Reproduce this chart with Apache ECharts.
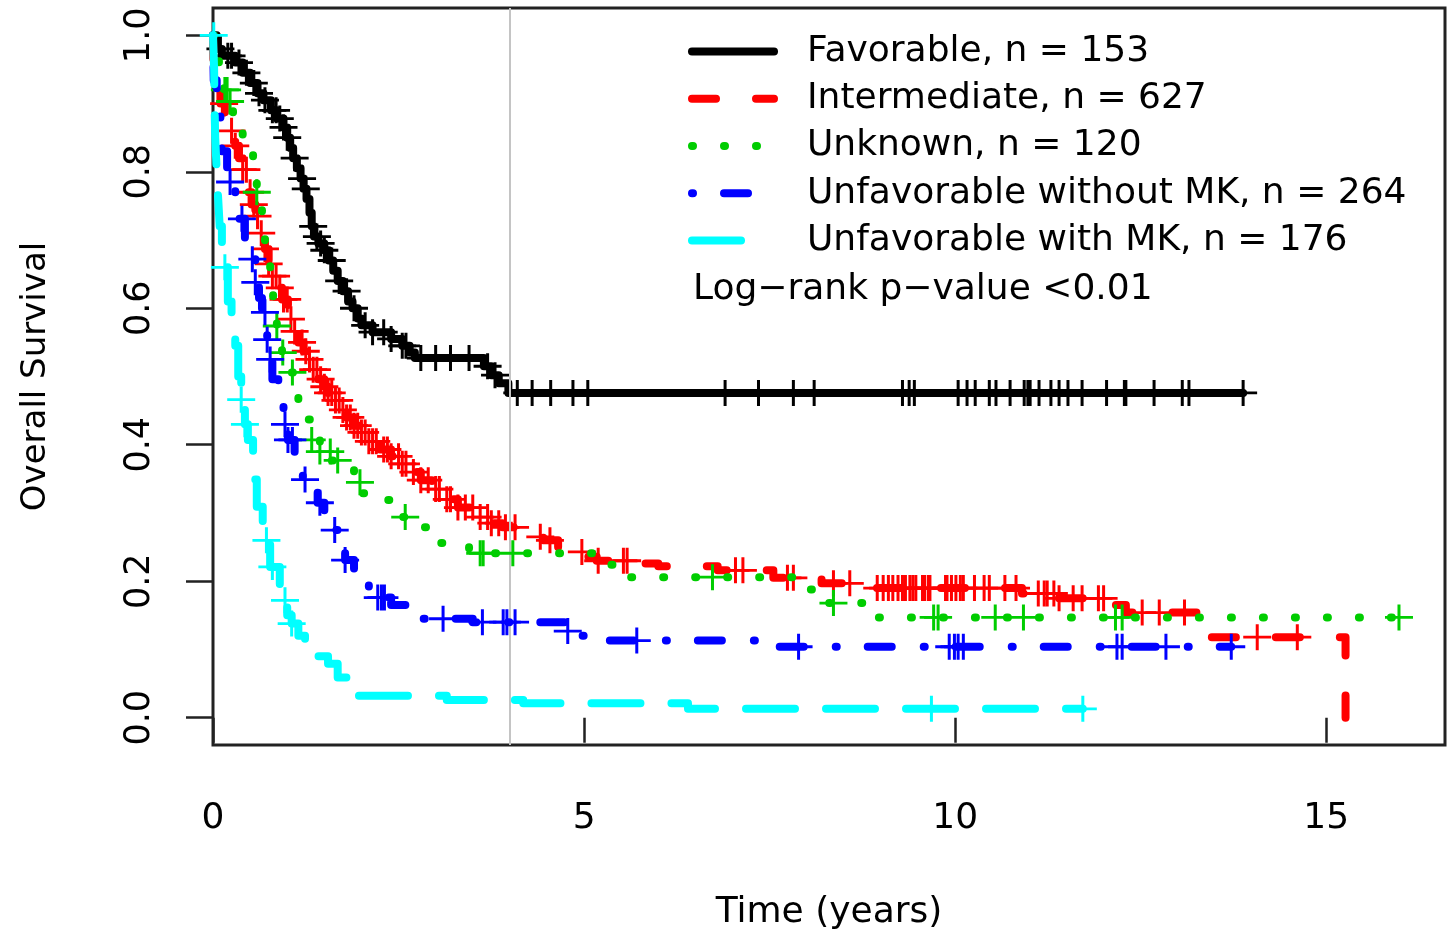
<!DOCTYPE html>
<html><head><meta charset="utf-8">
<script src="https://cdn.jsdelivr.net/npm/echarts@6/dist/echarts.min.js"></script>
<style>html,body{margin:0;padding:0;background:#fff}#c{width:1449px;height:931px}</style>
</head><body><div id="c"></div>
<script>
// ---------- data ----------
const groupNames = [
  'Favorable, n = 153',
  'Intermediate, n = 627',
  'Unknown, n = 120',
  'Unfavorable without MK, n = 264',
  'Unfavorable with MK, n = 176'
];
const groupColors = ['#000000', '#ff0000', '#00cd00', '#0000ff', '#00ffff'];

// Kaplan-Meier steps: [time (years), survival after the step]
const favorableSteps = [[0,1],[0.05,0.98],[0.12,0.97],[0.3,0.96],[0.4,0.945],[0.5,0.93],[0.6,0.915],[0.68,0.905],[0.78,0.89],[0.86,0.878],[0.95,0.865],[1.0,0.85],[1.04,0.835],[1.08,0.82],[1.13,0.805],[1.18,0.79],[1.22,0.775],[1.26,0.76],[1.3,0.74],[1.33,0.72],[1.36,0.705],[1.42,0.695],[1.5,0.685],[1.56,0.67],[1.62,0.655],[1.68,0.64],[1.75,0.625],[1.82,0.61],[1.88,0.6],[1.95,0.585],[2.0,0.575],[2.15,0.565],[2.4,0.555],[2.55,0.545],[2.65,0.535],[2.72,0.527],[3.65,0.515],[3.75,0.502],[3.85,0.49],[3.98,0.476],[13.88,0.476]];
const intermediateSteps = [[0,1],[0.01,0.93],[0.05,0.92],[0.1,0.9],[0.16,0.878],[0.22,0.86],[0.3,0.838],[0.35,0.82],[0.4,0.803],[0.47,0.77],[0.52,0.752],[0.57,0.735],[0.63,0.71],[0.7,0.687],[0.75,0.665],[0.8,0.647],[0.87,0.63],[0.93,0.613],[1.01,0.584],[1.08,0.566],[1.15,0.55],[1.22,0.537],[1.28,0.525],[1.35,0.51],[1.42,0.496],[1.5,0.485],[1.55,0.476],[1.62,0.465],[1.71,0.451],[1.8,0.44],[1.9,0.428],[1.98,0.418],[2.1,0.405],[2.25,0.393],[2.4,0.383],[2.52,0.372],[2.65,0.36],[2.8,0.348],[2.95,0.335],[3.1,0.32],[3.3,0.308],[3.56,0.294],[3.75,0.285],[3.9,0.279],[4.1,0.272],[4.3,0.265],[4.45,0.26],[4.65,0.25],[4.81,0.243],[5.0,0.236],[5.17,0.23],[5.6,0.226],[6.0,0.222],[6.8,0.216],[7.55,0.205],[8.2,0.197],[8.8,0.19],[10.9,0.182],[11.4,0.175],[12.1,0.165],[12.3,0.154],[13.32,0.118],[15.26,0.0]];
const unknownSteps = [[0,1],[0.03,0.97],[0.08,0.944],[0.15,0.92],[0.2,0.903],[0.27,0.859],[0.4,0.845],[0.46,0.834],[0.54,0.8],[0.59,0.77],[0.63,0.745],[0.66,0.724],[0.7,0.684],[0.77,0.647],[0.81,0.61],[0.86,0.574],[0.93,0.535],[1.01,0.506],[1.08,0.474],[1.15,0.455],[1.21,0.437],[1.33,0.407],[1.44,0.39],[1.6,0.377],[1.78,0.363],[1.9,0.345],[2.0,0.329],[2.21,0.319],[2.43,0.294],[2.7,0.279],[2.9,0.256],[3.45,0.241],[5.19,0.224],[5.46,0.206],[7.87,0.188],[8.09,0.168],[8.79,0.147],[15.98,0.147]];
const unfavNoMkSteps = [[0,1],[0.01,0.934],[0.05,0.897],[0.1,0.86],[0.12,0.83],[0.19,0.785],[0.3,0.746],[0.34,0.731],[0.43,0.691],[0.53,0.672],[0.57,0.638],[0.62,0.615],[0.66,0.594],[0.73,0.554],[0.77,0.525],[0.8,0.496],[0.88,0.456],[0.95,0.43],[1.01,0.407],[1.1,0.382],[1.21,0.349],[1.3,0.33],[1.41,0.315],[1.5,0.295],[1.58,0.275],[1.7,0.25],[1.78,0.231],[1.9,0.21],[1.98,0.197],[2.1,0.185],[2.22,0.176],[2.4,0.165],[2.63,0.153],[2.82,0.145],[3.5,0.14],[4.77,0.127],[4.9,0.12],[5.3,0.113],[7.6,0.104],[13.72,0.104]];
const unfavMkSteps = [[0,1],[0.015,0.95],[0.02,0.9],[0.03,0.85],[0.05,0.8],[0.07,0.76],[0.09,0.72],[0.12,0.69],[0.16,0.66],[0.2,0.61],[0.25,0.575],[0.3,0.545],[0.34,0.5],[0.38,0.466],[0.43,0.43],[0.47,0.407],[0.54,0.349],[0.59,0.309],[0.67,0.26],[0.77,0.221],[0.9,0.172],[1.0,0.15],[1.06,0.138],[1.15,0.12],[1.24,0.103],[1.4,0.09],[1.55,0.079],[1.68,0.059],[1.82,0.047],[1.95,0.032],[3.15,0.026],[4.18,0.021],[6.4,0.013],[11.72,0.013]];

// censoring times (years)
const favorableCensor = [0.1,0.2,0.25,0.35,0.45,0.55,0.62,0.7,0.8,0.85,0.9,0.95,1.0,1.1,1.2,1.25,1.35,1.4,1.45,1.5,1.6,1.7,1.8,1.9,2.05,2.15,2.3,2.4,2.55,2.6,2.8,3.0,3.2,3.45,3.7,3.8,4.1,4.3,4.55,4.85,5.05,6.9,7.35,7.82,8.1,9.29,9.38,9.45,10.04,10.16,10.27,10.46,10.55,10.74,10.93,10.98,11.01,11.13,11.29,11.4,11.52,11.71,12.04,12.28,12.3,12.68,13.06,13.15,13.88];
const intermediateCensor = [0.15,0.25,0.3,0.4,0.45,0.5,0.55,0.6,0.65,0.7,0.75,0.8,0.85,0.9,0.95,1.0,1.05,1.1,1.2,1.25,1.3,1.35,1.4,1.45,1.5,1.55,1.6,1.65,1.7,1.75,1.8,1.85,1.9,1.95,2.0,2.05,2.1,2.15,2.2,2.3,2.35,2.4,2.5,2.55,2.6,2.7,2.8,2.9,3.0,3.05,3.15,3.2,3.3,3.4,3.5,3.6,3.7,3.75,3.85,3.94,4.07,4.41,4.54,4.97,5.19,5.53,5.58,7.04,7.14,7.74,7.82,8.36,8.58,8.95,9.03,9.1,9.16,9.23,9.29,9.33,9.39,9.43,9.47,9.56,9.59,9.64,9.66,9.87,9.89,9.95,10.01,10.07,10.11,10.26,10.39,10.46,10.67,10.82,11.12,11.2,11.24,11.33,11.4,11.59,11.71,11.93,12.0,12.52,12.75,13.09,14.07,14.61];
const unknownCensor = [0.16,0.19,0.23,0.59,0.86,0.94,1.07,1.33,1.44,1.58,1.68,1.98,2.59,3.6,3.64,4.04,6.73,8.36,9.71,9.77,10.54,10.92,12.16,12.25,15.98];
const unfavNoMkCensor = [0.23,0.39,0.53,0.57,0.7,0.73,0.77,0.97,1.01,1.07,1.24,1.44,1.64,1.78,2.22,2.27,2.31,3.1,3.63,3.91,3.96,4.07,4.78,5.71,7.89,9.92,9.99,10.04,10.11,12.18,12.25,12.84,13.72];
const unfavMkCensor = [0.01,0.16,0.38,0.43,0.72,0.8,0.97,1.06,9.68,11.72];

const referenceTimes = [4];
const xTickValues = [0, 5, 10, 15];
const yTickValues = [0, 0.2, 0.4, 0.6, 0.8, 1.0];
const pValueText = 'Log\u2212rank p\u2212value <0.01';
const xTitle = 'Time (years)';
const yTitle = 'Overall Survival';

// ---------- chart ----------
const allSteps = [favorableSteps, intermediateSteps, unknownSteps, unfavNoMkSteps, unfavMkSteps];
const allCensor = [favorableCensor, intermediateCensor, unknownCensor, unfavNoMkCensor, unfavMkCensor];
const LW = 8;
const dashes = ['solid', [24, 40], [1, 31], [1, 31, 24, 32], [49, 31]];
const legendDashes = ['solid', [24, 40], [1, 31], [1, 31, 24, 32], [49, 80]];

function survivalAt(steps, t) {
  let s = steps[0][1];
  for (const p of steps) { if (p[0] <= t) s = p[1]; else break; }
  return s;
}

const FONT = "'DejaVu Sans'";
const crossPath = 'path://M-1.5,-14L1.5,-14L1.5,14L-1.5,14Z M-14,-1.5L-1.5,-1.5L-1.5,1.5L-14,1.5Z M1.5,-1.5L14,-1.5L14,1.5L1.5,1.5Z';

const series = [{
  type: 'line', name: '_ref', data: [], silent: true, z: 1,
  markLine: {
    silent: true, symbol: ['none', 'none'], label: {show: false},
    lineStyle: {color: '#c4c4c4', width: 2, type: 'solid'},
    emphasis: {disabled: true},
    data: referenceTimes.map(t => ({xAxis: t}))
  }
}];
groupNames.forEach((name, i) => {
  series.push({
    type: 'line', name: name, step: 'end', data: allSteps[i],
    symbol: 'none', z: 3 + i, silent: true,
    lineStyle: {color: groupColors[i], width: LW, type: dashes[i], cap: 'round', join: 'round'},
    itemStyle: {color: groupColors[i]}
  });
  series.push({
    type: 'scatter', name: name + ' (censored)', z: 3 + i, silent: true,
    data: allCensor[i].map(t => [t, survivalAt(allSteps[i], t)]),
    symbol: crossPath, symbolSize: [28, 26],
    itemStyle: {color: groupColors[i], opacity: 1}
  });
});

const chart = echarts.init(document.getElementById('c'), null, {renderer: 'canvas'});
chart.setOption({
  animation: false,
  backgroundColor: '#ffffff',
  grid: {left: 213, right: 4, top: 8, bottom: 186, show: true, borderColor: '#222', borderWidth: 3,
    backgroundColor: 'transparent', containLabel: false, outerBoundsMode: 'none'},
  title: {
    text: pValueText, left: 693, top: 268, padding: 0,
    textStyle: {fontFamily: FONT, fontSize: 36, fontWeight: 'normal', color: '#000', lineHeight: 44}
  },
  legend: {
    data: groupNames.map((n, i) => ({
      name: n,
      lineStyle: {color: groupColors[i], width: LW, type: legendDashes[i], cap: 'round', join: 'round', opacity: 1}
    })),
    orient: 'vertical', left: 688, top: 33.5, padding: 0,
    itemWidth: 82, itemHeight: 36, itemGap: 11.25, selectedMode: false,
    itemStyle: {opacity: 0, color: 'rgba(0,0,0,0)', borderWidth: 0},
    lineStyle: {width: LW, cap: 'round'},
    textStyle: {fontFamily: FONT, fontSize: 36, color: '#000', padding: [0, 0, 0, 28]}
  },
  xAxis: {
    type: 'value', min: 0, max: 16.6,
    name: xTitle, nameLocation: 'middle', nameGap: 150,
    nameTextStyle: {fontFamily: FONT, fontSize: 36, color: '#000'},
    axisLine: {show: false},
    axisTick: {show: true, customValues: xTickValues, length: 25, lineStyle: {color: '#222', width: 2.5}},
    axisLabel: {customValues: xTickValues, fontFamily: FONT, fontSize: 36, color: '#000', margin: 56},
    splitLine: {show: false}
  },
  yAxis: {
    type: 'value', min: -0.04, max: 1.04,
    name: yTitle, nameLocation: 'middle', nameGap: 160,
    nameTextStyle: {fontFamily: FONT, fontSize: 34, color: '#000'},
    axisLine: {show: false},
    axisTick: {show: true, customValues: yTickValues, length: 27, lineStyle: {color: '#222', width: 2.5}},
    axisLabel: {customValues: yTickValues, rotate: 90, fontFamily: FONT, fontSize: 35, color: '#000', margin: 56,
      formatter: v => v.toFixed(1)},
    splitLine: {show: false}
  },
  series: series
});
</script>
</body></html>
